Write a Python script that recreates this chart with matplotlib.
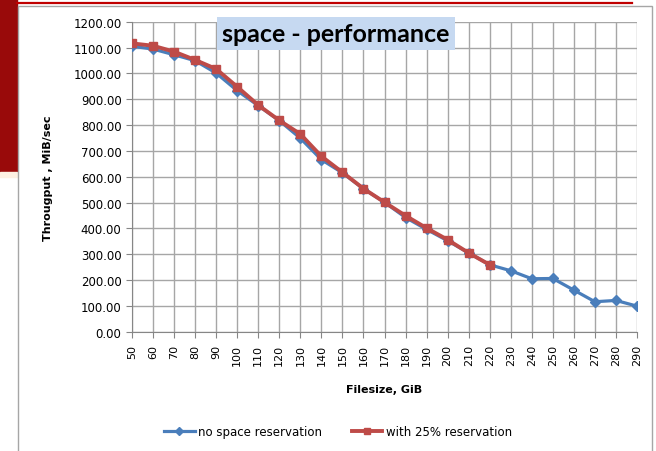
import numpy as np
import matplotlib
matplotlib.use('Agg')
import matplotlib.pyplot as plt
import matplotlib.patches as patches
from matplotlib.lines import Line2D

# data
filesize = [50, 60, 70, 80, 90, 100, 110, 120, 130, 140, 150, 160, 170,
            180, 190, 200, 210, 220, 230, 240, 250, 260, 270, 280, 290]
no_reservation = [1105, 1094, 1072, 1049, 1001, 933, 875, 817, 749, 666,
                  615, 553, 501, 442, 396, 352, 305, 259, 236, 205, 206,
                  161, 116, 121, 99]
with_reservation = [1116, 1107, 1084, 1052, 1017, 948, 877, 818, 765, 679,
                    617, 554, 501, 449, 401, 356, 305, 259]

W, H = 656, 452
blue = '#4a7ebb'
red = '#be4b48'
grid_c = '#a6a6a6'


def fx(x):
    return x / W


def fy(y):
    return 1 - y / H


fig = plt.figure(figsize=(W / 100, H / 100), dpi=100)

# slide decoration around the chart
fig.patches.append(patches.Rectangle((0, fy(173)), fx(17), 173 / H,
                                     transform=fig.transFigure, color='#990a0a', zorder=0))
fig.patches.append(patches.Rectangle((0, fy(178)), fx(17), 5 / H,
                                     transform=fig.transFigure, color='#fdf1e3', zorder=0))
fig.lines.append(Line2D([fx(17), fx(632)], [fy(3.5), fy(3.5)], transform=fig.transFigure,
                        color='#c00000', lw=1.6, zorder=1))
fig.patches.append(patches.Rectangle((fx(18), fy(470)), fx(652 - 18), 463 / H,
                                     transform=fig.transFigure, facecolor='white',
                                     edgecolor=grid_c, lw=1, zorder=1))

ax = fig.add_axes([fx(132), fy(332.7), fx(637 - 132), (332.7 - 22.7) / H])
ax.set_zorder(2)
ax.patch.set_alpha(0)

idx = np.arange(len(filesize))
ax.plot(idx, no_reservation, color=blue, lw=2.3, marker='D', ms=5,
        label='no space reservation', zorder=3)
ax.plot(idx[:len(with_reservation)], with_reservation, color=red, lw=2.8,
        marker='s', ms=5.5, label='with 25% reservation', zorder=4)

ax.set_xlim(0, len(filesize) - 1)
ax.set_ylim(0, 1200)
ax.set_xticks(idx)
ax.set_xticklabels([str(v) for v in filesize], rotation=90, fontsize=8)
ax.set_yticks(np.arange(0, 1201, 100))
ax.set_yticklabels([f'{v:.2f}' for v in np.arange(0, 1201, 100)], fontsize=8.5)
ax.grid(True, color=grid_c, lw=1)
ax.set_axisbelow(True)
for s in ('top', 'right'):
    ax.spines[s].set_visible(False)
for s in ('left', 'bottom'):
    ax.spines[s].set_color('#868686')
ax.tick_params(length=4, color='#868686', colors='black')
ax.tick_params(axis='x', pad=5)

ax.set_xlabel('Filesize, GiB', fontsize=8, fontweight='bold', labelpad=13)
fig.text(fx(48), fy(178), 'Througput , MiB/sec', rotation=90, fontsize=8,
         fontweight='bold', ha='center', va='center')

fig.text(fx(336), fy(34), 'space - performance', fontsize=18, fontweight='bold',
         family='Lato', ha='center', va='center', zorder=5,
         bbox=dict(boxstyle='square,pad=0.2', facecolor='#c6d9f1', edgecolor='none'))

fig.legend(loc='center', bbox_to_anchor=(fx(338), fy(433)), ncol=2, frameon=False,
           fontsize=8.5, handlelength=2.6, columnspacing=2.5, handletextpad=0.3,
           markerscale=0.8)

fig.savefig('out.png', dpi=100)
